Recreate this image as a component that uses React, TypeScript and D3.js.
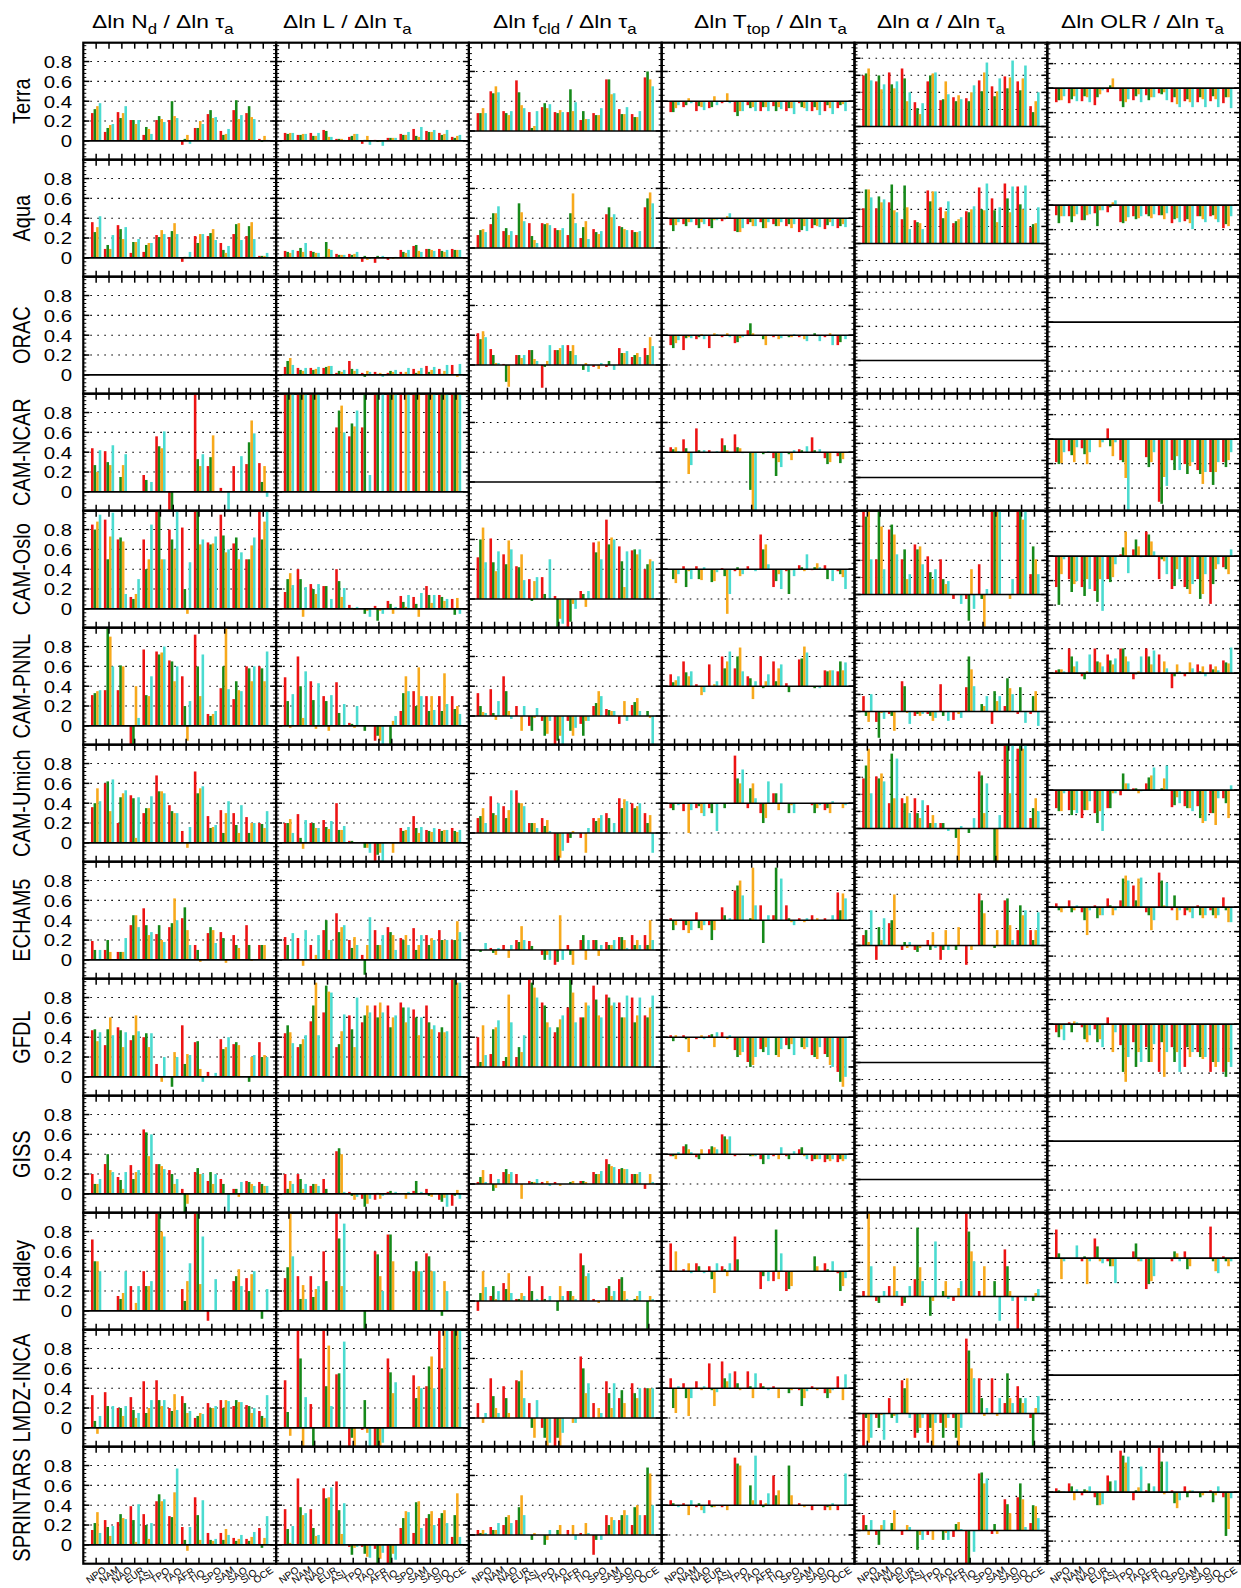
import React from "react";
import * as d3 from "d3";

// regions along the x axis of every panel
const REGIONS = ["NPO", "NAM", "NAO", "EUR", "ASI", "TPO", "TAO", "AFR", "TIO", "SPO", "SAM", "SAO", "SIO", "OCE"];
const DATASETS = ["Terra", "Aqua", "ORAC", "CAM-NCAR", "CAM-Oslo", "CAM-PNNL", "CAM-Umich", "ECHAM5", "GFDL", "GISS", "Hadley", "LMDZ-INCA", "SPRINTARS"];
const SERIES = ["s1", "s2", "s3", "s4"];
const COLORS = ["#ec1313", "#16891a", "#f7a91c", "#4bdbd0"];
const TITLES = [
  ["\u0394ln N", "d", " / \u0394ln \u03c4", "a"],
  ["\u0394ln L", "", " / \u0394ln \u03c4", "a"],
  ["\u0394ln f", "cld", " / \u0394ln \u03c4", "a"],
  ["\u0394ln T", "top", " / \u0394ln \u03c4", "a"],
  ["\u0394ln \u03b1", "", " / \u0394ln \u03c4", "a"],
  ["\u0394ln OLR", "", " / \u0394ln \u03c4", "a"],
];
const YTICKS = [0, 0.2, 0.4, 0.6, 0.8];
// zero line and grid of each column, in the common plotted units
const ZERO = [0, 0, 0.1, 0.4, 0.145, 0.532];
const GRID = [
  [0.2, 0.4, 0.6, 0.8],
  [0.2, 0.4, 0.6, 0.8],
  [0.4, 0.7],
  [0.1, 0.7],
  [-0.027, 0.317, 0.489, 0.661, 0.833],
  [0.038, 0.285, 0.779],
];
const STEP = [0.2, 0.2, 0.3, 0.3, 0.172, 0.247];

// bar ends x100, groups of 4 (red, green, orange, cyan) per region, one string per column
const terra = [
  "28 32 35 38|9 13 16 17|29 23 28 35|21 21 17 21|6 14 12 7|21 25 22 19|21 40 25 23|-4 2 6 -3|13 13 20 17|27 31 23 24|10 6 7 12|31 41 22 26|28 35 24 22|2 -1 5 1",
  "8 7 8 8|6 6 7 7|8 5 5 8|11 10 4 4|2 2 2 1|4 5 7 7|-3 1 5 -4|1 -1 -1 -5|3 3 3 3|7 6 6 9|12 5 4 14|10 9 9 11|8 6 7 11|4 3 5 6",
  "28 28 33 28|50 48 55 49|30 28 26 30|61 49 36 33|29 13 15 30|34 38 33 37|29 28 31 29|29 52 30 39|21 30 22 22|28 26 26 33|62 62 47 48|32 27 27 34|27 24 24 30|64 70 62 55",
  "29 29 33 36|34 36 43 38|30 35 34 31|33 34 45 36|38 40 48 38|29 25 30 30|36 33 34 30|30 34 34 30|35 30 34 32|30 33 33 27|38 34 33 30|30 34 31 26|30 36 33 27|33 36 37 30",
  "66 68 73 61|60 66 52 57|69 57 53 60|73 63 40 49|39 33 27 38|60 66 68 69|41 42 60 47|44 40 46 42|43 40 49 56|61 50 69 79|55 45 50 63|65 53 64 81|60 51 63 76|35 29 40 49",
  "39 41 41 45|38 42 45 40|40 45 44 39|36 44 47 51|49 56 63 52|40 34 39 42|41 45 47 39|46 41 44 44|48 47 49 41|39 44 37 34|40 42 39 34|39 44 42 34|40 45 42 34|38 44 44 33",
];
const aqua = [
  "36 26 31 42|9 13 9 23|33 29 19 31|5 16 16 19|6 13 15 15|23 21 28 24|21 27 35 24|-4 1 1 6|22 15 24 24|22 25 29 18|15 8 5 12|24 34 35 18|22 32 36 19|2 2 2 5",
  "7 6 5 8|7 10 6 15|7 6 5 5|1 16 9 8|4 3 3 3|4 3 4 6|-4 2 -2 -1|-5 2 0 2|-2 0 -1 1|8 6 5 8|12 13 7 6|9 9 8 7|9 7 6 8|9 8 8 8",
  "23 28 29 26|34 45 45 52|27 30 23 27|23 55 46 37|35 22 18 15|35 34 35 33|30 28 28 30|23 45 65 35|20 31 37 19|29 26 24 27|44 51 41 44|32 31 29 28|28 26 26 27|51 60 66 55",
  "33 27 33 36|34 32 36 36|33 30 36 34|32 30 38 38|37 39 42 45|27 26 26 30|34 36 32 32|36 30 30 36|34 32 32 36|32 34 30 34|26 28 32 27|30 33 32 31|29 33 36 32|30 32 34 31",
  "50 69 69 61|50 62 56 59|56 74 48 46|39 73 51 29|38 36 35 29|68 57 67 67|51 40 47 57|35 37 39 41|47 46 49 52|71 49 48 75|60 48 36 51|75 60 46 72|72 54 49 73|31 34 35 51",
  "43 35 42 42|42 36 42 44|38 38 43 44|45 32 48 48|46 51 56 58|36 35 37 41|42 39 40 42|44 42 40 44|43 43 39 45|35 39 40 36|37 39 35 29|42 42 39 36|42 43 39 36|30 34 32 42",
];
const orac = [
  "",
  "8 14 17 10|7 5 4 7|7 5 6 8|7 8 9 9|2 4 3 5|14 6 4 6|2 -2 4 3|3 1 2 -2|2 4 3 5|3 1 3 7|6 2 4 7|9 3 5 8|6 1 4 10|10 0 -2 11",
  "42 36 44 38|26 20 12 12|11 -7 -12 10|20 20 17 20|25 25 16 14|-13 8 14 30|25 25 27 30|30 24 30 20|10 5 12 3|8 10 6 12|8 14 10 5|27 22 22 24|18 20 22 18|27 20 38 29",
  "30 27 32 35|25 37 38 37|36 38 41 36|27 40 42 41|38 40 42 38|32 33 37 38|45 52 42 40|40 36 30 40|38 40 36 37|40 38 38 41|38 40 36 34|40 42 39 34|38 40 42 30|30 33 40 36",
  "",
  "",
];
const camNcar = [
  "44 27 20 42|41 30 27 47|0 15 27 38|0 0 0 0|17 12 0 10|56 46 44 61|-20 -20 0 0|0 0 0 0|100 33 26 38|26 35 57 0|4 0 0 -20|26 0 0 36|28 50 72 59|29 10 26 -5",
  "100 100 100 100|100 100 100 100|100 100 100 100|0 0 0 0|65 82 87 60|56 69 66 82|65 100 0 17|100 100 0 100|100 100 100 100|100 0 100 100|100 100 100 0|100 100 100 100|100 100 100 100|100 100 100 100",
  "",
  "45 43 45 41|53 44 18 27|64 42 40 42|42 40 40 41|54 47 42 40|58 45 44 39|40 2 -20 -20|40 38 40 41|34 16 30 25|40 38 32 42|43 42 40 46|55 42 40 43|34 28 30 40|36 29 33 40",
  "",
  "30 28 29 40|41 37 30 45|44 38 28 40|53 53 45 50|64 46 36 50|32 30 14 -20|53 53 53 53|35 25 30 40|-10 -12 15 6|32 22 36 22|28 18 26 30|22 18 8 20|20 7 20 30|30 25 32 40",
];
const camOslo = [
  "85 80 88 95|90 50 73 97|70 72 68 15|12 10 15 30|70 40 50 85|100 100 50 50|80 70 60 100|82 20 -5 47|100 100 65 70|67 65 66 73|95 74 57 60|66 72 50 57|50 50 64 72|98 70 88 100",
  "17 30 36 24|40 30 -8 22|25 20 15 25|23 23 0 10|40 28 12 21|4 1 -1 2|0 -5 -2 -8|3 -12 -2 -5|8 5 -5 2|13 7 2 14|12 5 -8 16|23 14 6 14|14 12 8 10|10 -6 11 -5",
  "52 70 82 47|71 47 38 58|55 45 69 60|43 42 55 29|30 8 28 32|32 15 10 50|13 -20 -10 -15|-20 -13 5 0|18 15 2 18|67 57 68 50|90 65 72 70|63 48 22 58|59 60 55 60|40 45 50 48",
  "40 30 26 35|43 22 38 30|43 30 29 42|40 27 28 37|41 33 -5 15|38 42 33 35|43 40 40 38|75 60 65 45|22 28 35 20|38 15 39 33|44 42 38 55|39 42 46 42|44 30 40 28|38 35 32 20",
  "98 93 100 50|50 100 83 40|80 85 75 55|50 60 30 35|65 60 63 45|53 37 30 40|50 30 25 28|10 15 15 5|10 -12 40 0|45 10 -20 20|100 100 100 100|15 15 10 30|100 100 90 100|35 63 50 35",
  "22 4 35 50|30 17 25 28|22 13 30 20|18 7 30 -2|30 27 32 45|55 62 78 36|60 70 63 52|78 75 68 58|30 50 48 35|20 23 40 30|22 20 15 25|30 10 15 35|5 25 40 45|42 40 35 60",
];
const camPnnl = [
  "31 33 35 36|36 100 90 60|36 61 60 0|-20 -20 40 8|77 31 30 50|75 72 74 80|66 65 45 60|50 20 -15 25|92 60 30 72|12 10 12 15|38 60 100 37|27 45 36 35|60 58 45 60|60 58 45 75",
  "49 25 -2 32|70 40 8 55|45 26 -3 43|30 25 -5 31|44 13 0 22|3 2 -2 20|0 -5 0 0|-15 -10 -15 -19|0 -20 5 10|15 33 50 35|35 20 59 30|30 15 30 16|30 15 53 22|30 17 20 12",
  "33 20 14 13|37 13 6 25|50 35 15 7|20 10 -5 20|0 -5 8 18|5 -10 -8 5|-20 -15 -10 -20|5 -5 -10 -2|2 -10 5 5|20 23 35 30|17 16 15 15|2 10 25 5|21 24 28 15|10 15 8 -20",
  "52 44 46 50|65 54 50 55|42 40 31 34|62 40 42 45|70 58 65 75|58 70 79 55|50 48 27 45|70 38 45 52|65 45 58 62|43 34 40 40|67 68 80 74|40 38 40 38|56 55 56 56|55 65 56 64",
  "30 10 4 32|4 -12 13 7|12 10 -5 14|45 40 13 2|10 12 10 12|12 10 5 8|42 10 15 5|6 15 12 8|39 70 57 40|15 22 20 30|2 35 25 30|20 48 38 32|12 39 15 3|12 30 35 0",
  "56 57 57 55|78 70 60 65|50 47 55 72|78 65 64 60|72 66 62 68|78 78 70 65|47 52 55 70|78 70 62 76|72 53 65 58|38 50 62 55|50 54 64 58|62 55 60 50|62 57 60 56|66 64 63 79",
];
const camUmich = [
  "36 40 55 42|60 62 32 64|20 46 50 53|48 45 5 46|30 35 35 47|68 52 52 50|38 32 30 30|12 0 -5 16|72 50 55 57|27 15 16 18|33 10 30 42|30 18 10 38|26 10 20 20|20 19 15 32",
  "20 20 24 10|29 5 -6 23|20 20 15 15|23 16 14 22|40 13 13 17|2 2 0 0|0 -5 -5 -10|-20 -12 -10 -20|0 0 -10 0|15 12 13 16|27 15 10 16|13 12 11 15|14 12 13 13|15 12 11 13",
  "25 27 35 20|47 30 28 40|37 25 33 53|53 40 40 37|20 20 20 15|25 17 23 12|-20 -20 -15 -8|0 5 12 10|5 10 -10 15|25 22 25 28|30 25 10 20|45 35 44 42|40 35 37 40|30 20 28 -10",
  "35 33 40 38|32 40 10 33|35 37 30 27|35 30 40 12|40 35 40 40|88 65 60 74|35 55 60 45|30 20 25 62|50 50 33 60|40 30 38 30|40 40 40 40|38 30 35 38|33 35 30 42|40 40 35 38",
  "65 78 95 50|67 65 70 62|40 90 45 85|45 40 47 30|45 30 25 43|38 20 28 20|20 20 15 12|15 5 -20 17|15 10 15 25|72 68 30 60|15 -20 -20 28|100 100 50 100|95 100 95 100|25 35 45 32",
  "35 32 32 50|33 28 33 30|25 33 33 42|30 20 32 12|35 35 50 50|48 70 60 60|55 55 50 52|60 66 68 76|53 55 65 78|36 38 46 40|37 35 35 32|37 25 20 22|30 30 18 45|45 40 25 58",
];
const echam5 = [
  "19 10 0 10|10 20 8 0|8 8 8 22|35 45 45 33|52 35 25 28|26 35 20 18|33 37 62 40|42 53 30 15|15 10 -2 0|27 33 30 17|28 22 -3 0|25 15 12 0|35 15 -1 0|15 15 15 0",
  "23 15 0 27|22 0 -6 30|15 0 5 25|30 40 10 20|47 28 33 35|20 12 23 15|5 -15 15 43|30 15 15 25|33 28 25 10|22 20 25 15|32 10 15 25|25 15 22 20|30 20 20 20|20 20 39 28",
  "10 8 10 17|12 7 5 12|15 10 2 15|20 18 34 20|19 14 10 10|5 0 5 0|-5 -2 45 0|15 5 -5 10|20 25 0 20|20 20 4 15|18 15 15 20|23 23 20 12|25 15 20 15|25 15 40 20",
  "42 30 35 40|30 35 27 30|48 32 30 35|35 20 30 40|53 45 40 42|70 75 80 65|40 42 93 55|55 17 40 45|45 93 40 82|55 42 38 35|42 40 38 42|45 40 42 40|42 40 40 45|68 50 67 62",
  "25 30 18 50|0 33 20 42|37 40 66 15|10 18 12 18|10 8 12 15|20 10 28 12|0 10 30 10|15 10 33 15|-5 15 10 15|67 60 47 15|15 12 30 15|60 62 35 20|30 55 45 50|30 20 30 48",
  "57 50 48 52|60 48 50 55|48 40 25 50|55 42 45 45|62 55 45 50|60 82 85 80|75 60 82 83|48 45 30 40|88 80 55 78|50 65 40 50|45 50 48 42|55 45 42 45|50 45 42 45|63 50 38 38",
];
const gfdl = [
  "47 48 36 45|32 48 60 42|50 47 30 45|37 42 62 46|40 44 30 44|13 0 -5 20|0 -10 25 20|52 13 23 22|35 36 8 -5|5 0 0 4|38 28 30 40|33 35 32 0|0 -5 20 22|35 20 22 20",
  "44 52 45 34|30 33 38 42|56 72 95 42|65 92 86 85|30 33 46 63|62 48 30 80|55 62 72 65|72 60 75 65|72 50 60 62|75 70 55 70|68 60 42 60|72 55 48 52|45 50 45 46|100 100 95 95",
  "40 15 52 22|23 48 50 57|16 20 83 55|20 30 25 42|100 95 90 80|75 72 55 50|45 50 58 62|70 100 85 55|60 60 75 72|92 78 62 60|83 80 72 75|75 60 60 82|80 55 62 80|62 60 70 82",
  "42 36 42 40|42 38 25 40|38 40 42 38|42 43 30 45|45 40 38 42|27 20 22 25|15 10 12 20|28 25 30 22|40 22 20 28|32 28 33 22|40 30 28 30|22 20 18 30|23 20 12 10|5 -5 -10 0",
  "",
  "45 40 48 37|55 45 56 55|50 38 35 42|48 35 38 30|60 53 25 45|32 5 -5 20|35 10 25 15|30 15 15 33|5 35 0 25|30 15 25 5|10 30 20 25|25 20 18 20|5 15 10 15|5 0 15 10",
];
const giss = [
  "20 10 10 15|30 40 24 22|17 14 5 22|29 15 22 24|65 62 38 60|30 30 28 25|24 20 10 15|5 -20 -10 0|22 26 20 20|13 22 10 20|15 10 0 -20|5 5 -3 12|13 12 10 8|12 10 8 8",
  "20 5 13 10|20 15 5 10|8 10 10 8|15 5 0 0|43 46 40 2|2 -2 -6 -3|-5 -13 -10 -5|-6 1 -5 -2|2 3 1 2|0 0 -5 2|3 13 0 2|5 -2 -3 0|-6 -8 -4 -13|-12 -2 4 -5",
  "12 17 24 12|20 3 6 15|22 25 20 22|20 10 -5 10|13 12 12 15|12 10 13 8|12 10 8 10|10 12 13 10|13 13 12 10|22 20 20 23|35 30 28 27|25 26 25 25|20 20 20 22|5 10 20 12",
  "38 38 35 42|48 50 45 42|37 35 45 40|45 48 47 45|60 58 55 58|38 40 39 40|40 38 38 38|35 30 40 35|38 40 35 47|38 35 40 43|45 47 38 35|33 35 35 35|32 35 33 35|32 35 33 35",
  "",
  "",
];
const hadley = [
  "72 50 50 40|0 0 0 0|15 12 18 40|25 0 8 25|40 25 25 30|100 100 80 75|0 0 0 0|22 10 30 48|100 100 27 75|-10 0 0 32|0 0 0 0|30 35 42 25|33 20 37 40|0 -8 0 22",
  "33 44 100 55|35 12 26 12|35 14 22 25|60 30 0 0|100 73 25 88|0 0 0 0|0 -20 0 0|60 57 35 20|77 77 50 0|0 0 0 0|40 50 40 40|58 55 40 40|0 -5 30 20|0 0 0 0",
  "0 18 40 24|15 25 12 20|28 22 38 18|12 12 18 15|35 20 10 12|25 12 10 15|10 0 25 15|20 20 15 12|58 46 35 38|12 10 8 10|23 25 15 20|32 34 20 12|10 12 15 20|10 -20 15 12",
  "68 40 60 40|42 40 48 38|48 45 40 38|45 32 18 48|45 42 35 48|75 52 40 40|40 40 40 40|22 35 40 30|30 82 32 58|20 22 25 40|40 40 40 40|40 55 45 40|48 42 40 50|38 20 25 33",
  "20 15 100 45|10 8 15 20|25 15 45 20|5 8 15 25|32 84 44 30|15 -5 10 70|15 20 30 12|10 15 23 30|100 80 60 50|20 15 45 15|15 30 15 -10|62 45 20 10|-20 15 15 10|15 10 18 22",
  "82 58 32 50|53 53 53 66|50 55 27 50|73 65 50 48|50 45 45 28|53 53 53 53|60 68 50 50|22 27 30 35|53 53 53 53|50 60 58 50|60 42 45 53|53 53 53 53|85 50 40 38|55 50 45 50",
];
const lmdz = [
  "33 7 -6 12|36 22 0 22|20 20 12 22|31 18 10 15|47 15 20 28|48 28 22 28|20 17 34 18|32 25 15 17|10 12 15 14|25 20 20 22|28 20 28 27|22 28 26 26|23 22 15 20|17 12 10 33",
  "48 16 -8 0|100 70 -20 31|24 -20 0 0|100 42 83 22|54 55 0 87|-20 -10 -20 0|-2 28 -5 -20|-20 -20 -20 -15|70 56 35 46|0 0 0 0|53 30 42 40|42 62 72 40|100 60 100 100|100 100 100 100",
  "25 10 5 15|50 32 20 15|42 30 15 10|48 47 58 30|25 0 -10 28|0 -10 -20 -15|-20 -10 -20 -5|10 10 5 5|72 60 35 45|25 10 20 15|47 35 20 45|30 38 25 10|45 35 30 40|40 40 40 40",
  "50 20 15 42|45 30 12 30|47 40 38 42|65 38 22 36|67 50 47 55|57 45 38 40|57 42 30 55|45 42 40 38|42 40 30 40|40 35 38 40|38 22 30 37|42 40 38 40|35 30 35 38|52 40 28 54",
  "-20 10 -15 -10|10 0 13 -12|30 10 12 5|48 40 50 10|-10 -5 0 10|-15 0 -20 5|5 -10 0 10|10 -10 -20 0|90 78 60 50|50 30 12 20|50 15 12 30|25 55 30 25|42 30 25 30|10 -20 20 32",
  "",
];
const sprintars = [
  "15 22 33 12|25 18 9 19|23 31 27 26|39 25 3 41|31 20 6 22|44 51 44 46|29 28 53 77|18 5 -6 18|48 30 5 45|12 5 4 6|12 5 16 10|7 4 6 10|6 4 8 13|17 -3 7 29",
  "36 16 2 19|67 38 30 32|36 17 9 10|57 47 48 58|64 35 11 42|-2 -10 -3 -2|-2 -9 -12 -13|-4 -19 -14 -8|-19 -19 -9 -15|17 27 34 33|12 43 44 17|27 31 34 20|27 32 35 22|8 30 52 8",
  "15 12 15 12|18 15 15 22|20 28 30 22|25 38 50 30|10 5 12 10|10 0 5 15|10 15 20 10|15 10 20 5|12 10 22 12|-10 5 10 5|30 20 28 25|25 30 35 30|20 38 40 30|30 78 72 40",
  "45 42 40 38|42 40 30 45|38 42 35 32|45 38 38 40|38 40 35 40|88 82 80 40|40 60 45 90|45 38 42 52|70 50 55 40|40 80 50 40|42 40 38 40|35 40 40 40|35 38 35 42|35 40 40 72",
  "30 20 10 25|10 0 20 25|15 22 35 15|10 15 20 18|15 -5 10 5|10 15 5 15|15 5 12 5|8 21 23 16|-19 -19 14 -7|72 73 62 67|11 21 11 14|46 41 32 15|48 62 46 18|22 40 39 27",
  "57 55 54 54|62 59 45 56|50 56 55 59|48 40 40 41|70 64 53 65|95 90 83 89|45 55 58 79|55 62 53 59|99 84 51 84|55 42 37 45|59 48 55 55|53 48 50 54|55 43 50 59|48 9 16 47",
];
const ROWS = [terra, aqua, orac, camNcar, camOslo, camPnnl, camUmich, echam5, gfdl, giss, hadley, lmdz, sprintars];

const parse = (s: string): number[][] =>
  s.trim() === "" ? [] : s.split("|").map((g) => g.trim().split(/\s+/).map((v) => +v / 100));

// layout
const W = 1241, H = 1588;
const ML = 83.3, MT = 42.7, PW = 192.8, PH = 117;
const TITLE_X = [92, 283, 493, 694, 877, 1061];
const FONT = "'Liberation Sans', Arial, Helvetica, sans-serif";
const SX = 1.2;

const x = d3.scaleLinear().domain([0, 15]).range([0, PW]);
const y = d3.scaleLinear().domain([-0.19, 0.99]).range([PH, 0]);
const sub = d3.scaleBand<string>().domain(SERIES).range([-0.4, 0.4]);
const clampV = (v: number) => Math.max(-0.19, Math.min(0.99, v));

function Panel({ row, col }: { row: number; col: number }) {
  const data = parse(ROWS[row][col]);
  const zero = ZERO[col];
  const major = [zero, ...GRID[col]];
  const minor: number[] = [];
  const ms = STEP[col] / 5;
  for (let k = -20; k <= 40; k++) {
    const v = zero + k * ms;
    if (v > -0.19 && v < 0.99) minor.push(v);
  }
  const bw = x(sub.bandwidth()) - x(0);
  return (
    <g transform={`translate(${ML + col * PW},${MT + row * PH})`}>
      {GRID[col].map((g) => (
        <line key={"g" + g} x1={0} x2={PW} y1={y(g)} y2={y(g)} stroke="#000" strokeWidth={1.1} strokeDasharray="1.6 5.4" />
      ))}
      {data.map((grp, gi) =>
        grp.map((v, si) => {
          const vv = clampV(v);
          const y0 = y(Math.max(vv, zero));
          const y1 = y(Math.min(vv, zero));
          return (
            <rect
              key={gi + "-" + si}
              x={x(gi + 1 + (sub(SERIES[si]) as number))}
              width={bw}
              y={y0}
              height={Math.max(0, y1 - y0)}
              fill={COLORS[si]}
            />
          );
        })
      )}
      <line x1={0} x2={PW} y1={y(zero)} y2={y(zero)} stroke="#000" strokeWidth={1.6} />
      {REGIONS.map((r, i) => (
        <g key={r}>
          <line x1={x(i + 1)} x2={x(i + 1)} y1={0} y2={6} stroke="#000" strokeWidth={1.5} />
          <line x1={x(i + 1)} x2={x(i + 1)} y1={PH} y2={PH - 6} stroke="#000" strokeWidth={1.5} />
        </g>
      ))}
      {minor.map((v, i) => (
        <g key={"m" + i}>
          <line x1={0} x2={3} y1={y(v)} y2={y(v)} stroke="#000" strokeWidth={1} />
          <line x1={PW} x2={PW - 3} y1={y(v)} y2={y(v)} stroke="#000" strokeWidth={1} />
        </g>
      ))}
      {major.map((v, i) => (
        <g key={"M" + i}>
          <line x1={0} x2={6} y1={y(v)} y2={y(v)} stroke="#000" strokeWidth={1.5} />
          <line x1={PW} x2={PW - 6} y1={y(v)} y2={y(v)} stroke="#000" strokeWidth={1.5} />
        </g>
      ))}
      <rect x={0} y={0} width={PW} height={PH} fill="none" stroke="#000" strokeWidth={2.2} />
    </g>
  );
}

export default function App() {
  return (
    <svg width={W} height={H} style={{ position: "absolute", left: 0, top: 0, background: "#fff" }} fontFamily={FONT}>
      <rect width={W} height={H} fill="#fff" />
      {TITLES.map((t, c) => (
        <text key={"t" + c} transform={`translate(${TITLE_X[c]},28) scale(${SX},1)`} fontSize={19} fill="#000">
          <tspan>{t[0]}</tspan>
          {t[1] ? <tspan dy={6} fontSize={14}>{t[1]}</tspan> : null}
          <tspan dy={t[1] ? -6 : 0}>{t[2]}</tspan>
          <tspan dy={6} fontSize={14}>{t[3]}</tspan>
        </text>
      ))}
      {DATASETS.map((d, r) => (
        <g key={d}>
          <text
            transform={`translate(30,${MT + r * PH + PH / 2}) scale(${SX},1) rotate(-90)`}
            textAnchor="middle"
            fontSize={20}
          >
            {d}
          </text>
          {YTICKS.map((t) => (
            <text key={t} transform={`translate(72,${MT + r * PH + y(t) + 6.3}) scale(${SX},1)`} textAnchor="end" fontSize={17}>
              {t === 0 ? "0" : t.toFixed(1)}
            </text>
          ))}
          {TITLES.map((_, c) => (
            <Panel key={c} row={r} col={c} />
          ))}
        </g>
      ))}
      {TITLES.map((_, c) =>
        REGIONS.map((reg, i) => (
          <text
            key={c + reg}
            transform={`translate(${ML + c * PW + x(i + 1) - 7},1584) rotate(-35)`}
            fontSize={10}
          >
            {reg}
          </text>
        ))
      )}
    </svg>
  );
}
